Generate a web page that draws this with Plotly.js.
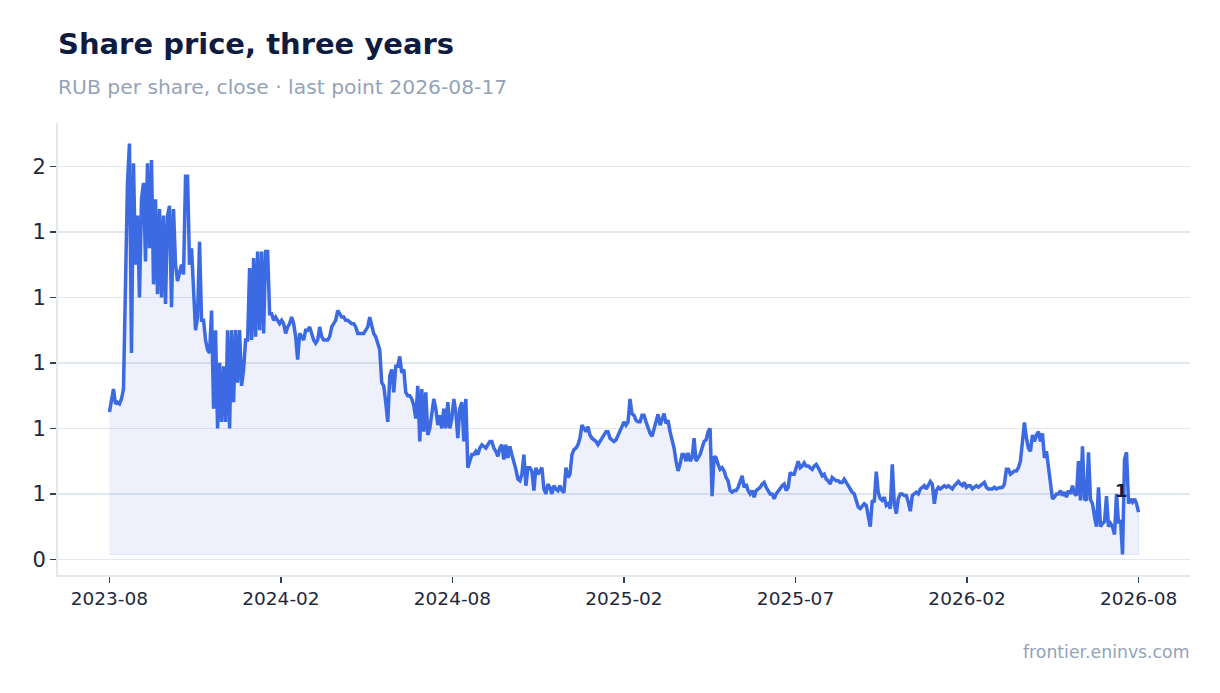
<!DOCTYPE html>
<html>
<head>
<meta charset="utf-8">
<script src="https://cdn.plot.ly/plotly-3.0.1.min.js"></script>
<style>
html,body{margin:0;padding:0;background:#ffffff;}
#chart{width:1220px;height:693px;}
</style>
</head>
<body>
<div id="chart"></div>
<script>
// Daily close, RUB per share in order (one value per trading session sample)
const closeSeg1 = [0.85,0.89,0.92,0.875,0.88,0.875,0.89,0.92,1.20,1.55,1.67,1.03,1.61,1.30,1.45,1.20,1.50,1.55,1.31,1.61,1.35,1.62,1.24,1.50,1.21,1.47,1.20,1.45,1.18,1.45,1.48,1.17,1.47,1.30,1.25,1.28,1.30,1.27,1.57,1.57,1.30,1.35,1.20,1.10,1.14,1.37,1.13,1.13,1.07,1.04,1.03,1.16,0.86,1.10,0.80,1.00,0.82,0.99,0.82,1.10,0.80];
const closeSeg2 = [1.10,0.88,1.10,0.94,1.10,0.93,0.98,1.07,1.07,1.29,1.07,1.32,1.08,1.34,1.10,1.34,1.09,1.34,1.34,1.15,1.15,1.13,1.14,1.13,1.12,1.13,1.12,1.09,1.11,1.12,1.14,1.12,1.08,1.01,1.09,1.08,1.07,1.10,1.10,1.11,1.09,1.07,1.06,1.07,1.11,1.08,1.07,1.07,1.07,1.08,1.11,1.12,1.13,1.16,1.15,1.14,1.14,1.13,1.13,1.125,1.12,1.12,1.11,1.09,1.09];
const closeSeg3 = [1.09,1.09,1.10,1.11,1.14,1.11,1.09,1.08,1.06,1.04,0.94,0.93,0.88,0.82,0.96,0.98,0.91,0.99,0.99,1.02,0.97,0.98,0.91,0.90,0.90,0.89,0.87,0.83,0.93,0.76,0.92,0.79,0.91,0.78,0.80,0.85,0.89,0.86,0.81,0.84,0.80,0.86,0.80,0.88,0.80,0.83,0.89,0.85,0.77,0.86,0.88,0.76,0.89,0.68,0.70,0.72,0.72,0.73,0.72,0.74,0.75,0.745,0.74,0.75,0.76];
const closeSeg4 = [0.76,0.74,0.73,0.715,0.74,0.75,0.705,0.75,0.71,0.745,0.72,0.70,0.675,0.645,0.64,0.66,0.72,0.625,0.68,0.68,0.67,0.61,0.68,0.66,0.67,0.68,0.615,0.60,0.63,0.62,0.60,0.625,0.615,0.61,0.625,0.61,0.604,0.68,0.65,0.66,0.72,0.735,0.74,0.75,0.77,0.81,0.80,0.79,0.805,0.78,0.77,0.765,0.76,0.75,0.76,0.77,0.785,0.79,0.79,0.77,0.765,0.76,0.765,0.78,0.79];
const closeSeg5 = [0.81,0.82,0.81,0.82,0.89,0.845,0.84,0.825,0.82,0.82,0.84,0.84,0.82,0.80,0.785,0.776,0.80,0.82,0.843,0.81,0.83,0.845,0.815,0.825,0.79,0.765,0.74,0.70,0.67,0.69,0.72,0.72,0.70,0.725,0.70,0.71,0.77,0.70,0.71,0.72,0.74,0.76,0.765,0.79,0.80,0.593,0.715,0.71,0.69,0.675,0.68,0.67,0.65,0.64,0.61,0.605,0.61,0.61,0.62,0.64,0.655,0.62,0.63,0.61,0.60];
const closeSeg6 = [0.61,0.59,0.61,0.615,0.62,0.63,0.635,0.62,0.61,0.60,0.60,0.585,0.60,0.61,0.615,0.625,0.63,0.61,0.62,0.665,0.66,0.66,0.68,0.70,0.68,0.685,0.695,0.685,0.685,0.68,0.675,0.685,0.69,0.68,0.665,0.655,0.66,0.645,0.64,0.63,0.65,0.645,0.64,0.64,0.635,0.635,0.645,0.635,0.625,0.61,0.605,0.60,0.575,0.56,0.555,0.565,0.57,0.565,0.535,0.50,0.58,0.575,0.668,0.604,0.585];
const closeSeg7 = [0.58,0.59,0.565,0.57,0.555,0.69,0.57,0.54,0.585,0.60,0.60,0.595,0.595,0.575,0.547,0.595,0.60,0.605,0.60,0.615,0.62,0.625,0.615,0.63,0.638,0.63,0.57,0.61,0.62,0.615,0.62,0.625,0.62,0.625,0.62,0.615,0.625,0.63,0.638,0.63,0.625,0.635,0.62,0.625,0.625,0.615,0.62,0.625,0.62,0.625,0.63,0.635,0.62,0.615,0.615,0.615,0.62,0.615,0.618,0.62,0.62,0.63,0.675,0.675];
const closeSeg8 = [0.66,0.665,0.67,0.67,0.68,0.70,0.77,0.818,0.77,0.74,0.73,0.78,0.76,0.78,0.79,0.76,0.785,0.71,0.73,0.68,0.62,0.585,0.59,0.60,0.60,0.61,0.595,0.605,0.59,0.61,0.60,0.625,0.60,0.595,0.70,0.58,0.745,0.585,0.58,0.727,0.583,0.57,0.53,0.50,0.62,0.50,0.51,0.515,0.593,0.50,0.51,0.50,0.476,0.60,0.51,0.52,0.415,0.705,0.727,0.57,0.585,0.575,0.585,0.57,0.544];

const tickLabels = ["2023-08","2024-02","2024-08","2025-02","2025-07","2026-02","2026-08"];
const titleText = "Share price, three years";
const subtitleText = "RUB per share, close · last point 2026-08-17";
const sourceText = "frontier.eninvs.com";

const closes = [].concat(closeSeg1, closeSeg2, closeSeg3, closeSeg4, closeSeg5, closeSeg6, closeSeg7, closeSeg8);
const session = closes.map((_, i) => i);
const last = closes.length - 1;
const vmin = Math.min(...closes);
const vmax = Math.max(...closes);
const span = vmax - vmin;
const tickVals = tickLabels.map((_, k) => last * k / (tickLabels.length - 1));

const BLUE = '#3b6ae3';

const traces = [
  {
    x: session.concat([last, 0]),
    y: closes.concat([vmin, vmin]),
    mode: 'lines',
    fill: 'toself',
    fillcolor: 'rgba(65,105,225,0.09)',
    line: {color: 'rgba(65,105,225,0.13)', width: 1},
    hoverinfo: 'skip'
  },
  {
    x: session,
    y: closes,
    mode: 'lines',
    line: {color: BLUE, width: 3.5},
    hoverinfo: 'skip'
  }
];

const layout = {
  width: 1220,
  height: 693,
  margin: {l: 58, r: 30, t: 123, b: 118},
  paper_bgcolor: '#ffffff',
  plot_bgcolor: '#ffffff',
  showlegend: false,
  font: {family: 'DejaVu Sans', color: '#1e293b'},
  title: {
    text: '<b>' + titleText + '</b>',
    font: {family: 'DejaVu Sans', size: 29, color: '#0f1c3f'},
    xref: 'container', x: 58 / 1220, xanchor: 'left',
    yref: 'container', y: 1 - 44 / 693, yanchor: 'middle'
  },
  xaxis: {
    range: [-0.05 * last, 1.05 * last],
    tickmode: 'array',
    tickvals: tickVals,
    ticktext: tickLabels,
    showgrid: false,
    zeroline: false,
    showline: true,
    linecolor: '#e2e8f0',
    linewidth: 2,
    ticks: 'outside',
    ticklen: 6,
    tickwidth: 1.5,
    tickcolor: '#334155',
    tickfont: {family: 'DejaVu Sans', size: 18.5, color: '#1e293b'}
  },
  yaxis: {
    range: [vmin - 0.05 * span, vmax + 0.05 * span],
    tick0: 0,
    dtick: 0.2,
    tickformat: '.0f',
    showgrid: true,
    gridcolor: '#e2e8f0',
    gridwidth: 1.5,
    zeroline: false,
    showline: true,
    linecolor: '#e2e8f0',
    linewidth: 2,
    ticks: 'outside',
    ticklen: 6,
    tickwidth: 1.5,
    tickcolor: '#334155',
    tickfont: {family: 'DejaVu Sans', size: 21, color: '#1e293b'}
  },
  annotations: [
    {
      xref: 'paper', yref: 'paper', x: 0, y: (575 - 86.5) / 452,
      xanchor: 'left', yanchor: 'middle', showarrow: false, xshift: -2,
      text: subtitleText,
      font: {family: 'DejaVu Sans', size: 20.3, color: '#94a3b8'}
    },
    {
      xref: 'paper', yref: 'paper', x: 1, y: (575 - 652) / 452,
      xanchor: 'right', yanchor: 'middle', showarrow: false, xshift: 2,
      text: sourceText,
      font: {family: 'DejaVu Sans', size: 17.3, color: '#94a3b8'}
    },
    {
      x: last, y: closes[last], xref: 'x', yref: 'y',
      xanchor: 'center', yanchor: 'middle', xshift: -17, yshift: 22,
      showarrow: false,
      text: '<b>' + closes[last].toFixed(0) + '</b>',
      font: {family: 'DejaVu Sans', size: 18, color: '#0f1c3f'}
    }
  ]
};

Plotly.newPlot('chart', traces, layout, {displayModeBar: false, staticPlot: true});
</script>
</body>
</html>
